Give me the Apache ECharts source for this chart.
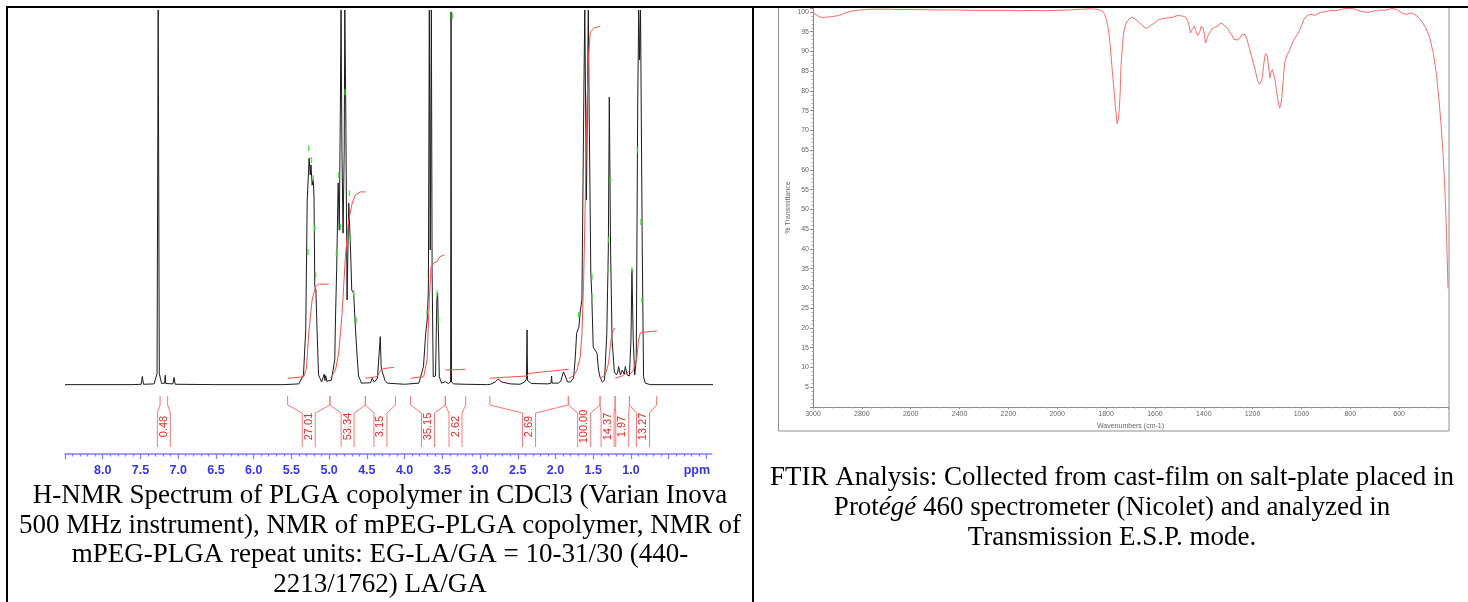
<!DOCTYPE html>
<html><head><meta charset="utf-8">
<script src="https://cdn.jsdelivr.net/npm/echarts@6/dist/echarts.min.js"></script>
<style>html,body{margin:0;padding:0;background:#fff}#c{width:1468px;height:602px}</style>
</head><body><div id="c"></div>
<script>
// ---------- NMR data ----------
const nmrTickLabels = ['8.0','7.5','7.0','6.5','6.0','5.5','5.0','4.5','4.0','3.5','3.0','2.5','2.0','1.5','1.0'];
const nmrUnitLabel = 'ppm';
const nmrSpectrum = [[8.50,0.1],[7.60,0.1],[7.49,0.2],[7.475,2.3],[7.46,0.2],[7.32,0.3],[7.28,3],[7.265,100],[7.25,3],[7.22,0.4],[7.18,0.5],[7.172,2.6],[7.165,0.4],[7.07,0.3],[7.055,2.0],[7.04,0.2],[6.5,0.1],[5.60,0.1],[5.40,0.3],[5.34,2.7],[5.31,14.7],[5.29,49.3],[5.265,60.5],[5.25,56],[5.24,58.7],[5.225,53.3],[5.21,54.7],[5.20,50.1],[5.19,26.4],[5.175,25.3],[5.16,14.7],[5.14,2.7],[5.10,0.8],[5.065,2.9],[5.055,1.2],[5.045,2.5],[5.03,1.0],[4.97,1.3],[4.945,1.0],[4.925,6.7],[4.915,18.1],[4.90,30.7],[4.88,53.9],[4.865,41.3],[4.85,76],[4.842,100],[4.83,62.7],[4.815,40.5],[4.80,62.7],[4.792,100],[4.78,76],[4.762,22.7],[4.74,48.5],[4.72,38.7],[4.70,25.3],[4.675,24.5],[4.65,14.7],[4.63,8],[4.61,2.4],[4.57,0.5],[4.45,0.6],[4.43,1.8],[4.40,0.8],[4.36,1.8],[4.335,2.2],[4.322,12.9],[4.31,4.9],[4.295,3.5],[4.28,3.1],[4.26,1.2],[4.23,0.5],[4.0,0.2],[3.81,0.5],[3.79,0.9],[3.75,4.9],[3.72,13.8],[3.70,17.3],[3.685,25],[3.672,100],[3.66,36],[3.645,100],[3.635,30],[3.62,2.2],[3.605,1.9],[3.59,2.4],[3.572,22.7],[3.562,24.5],[3.552,14.7],[3.54,2.2],[3.51,0.5],[3.46,0.9],[3.42,0.4],[3.39,0.8],[3.384,99.5],[3.378,0.8],[3.35,0.3],[3.20,0.2],[2.90,0.1],[2.86,0.2],[2.80,0.8],[2.76,1.6],[2.71,0.8],[2.60,0.3],[2.47,0.2],[2.41,0.8],[2.385,1.5],[2.377,14.7],[2.37,1.2],[2.32,0.4],[2.10,0.3],[2.058,0.5],[2.052,2.4],[2.045,0.5],[1.96,0.5],[1.93,1.0],[1.895,3.5],[1.87,2.4],[1.84,0.8],[1.80,0.8],[1.76,1.9],[1.74,6.7],[1.72,13.8],[1.69,15.5],[1.67,20],[1.65,22.7],[1.625,76],[1.612,100],[1.59,49.3],[1.565,100],[1.555,76],[1.532,29.9],[1.52,24.5],[1.50,10.1],[1.45,8.5],[1.43,4],[1.41,2.1],[1.38,0.8],[1.35,1.3],[1.32,13.8],[1.30,36],[1.287,76.8],[1.27,36],[1.25,12],[1.22,3.5],[1.19,2.7],[1.175,3.5],[1.164,4.9],[1.14,2.7],[1.115,4],[1.09,2.9],[1.075,4.9],[1.05,2.7],[1.02,2.4],[1.00,12],[0.987,30.7],[0.97,12],[0.95,2.7],[0.93,6.7],[0.91,76],[0.897,100],[0.886,86.7],[0.873,100],[0.86,62.7],[0.85,36],[0.833,2.2],[0.81,0.5],[0.745,0.1],[-0.10,0.1]];
const integralLabels = ['0.48','27.01','53.34','3.15','35.15','2.62','2.69','100.00','14.37','1.97','13.27'];
const integralFrom = [7.24,5.55,4.99,4.52,3.92,3.46,2.87,1.83,1.41,1.21,1.02];
const integralTo   = [7.14,4.99,4.52,4.12,3.46,3.19,1.83,1.41,1.21,1.02,0.66];
const integralCurve1 = [[5.55,1.8],[5.336,2.2],[5.30,4.5],[5.27,13.8],[5.225,22.7],[5.18,26.2],[5.14,26.9],[5.005,26.9]];
const integralCurve2 = [[4.983,1.8],[4.915,4],[4.873,8.5],[4.828,19.1],[4.784,34.2],[4.74,44],[4.695,48.4],[4.652,50.7],[4.585,51.5],[4.519,51.5]];
const integralCurve3 = [[4.519,1.8],[4.364,2.2],[4.32,3.8],[4.277,4.4],[4.144,4.7]];
const integralCurve4 = [[3.923,1.8],[3.747,2.2],[3.702,6.7],[3.672,22.7],[3.649,31.5],[3.615,32.5],[3.57,32.9],[3.535,34.2],[3.473,34.7]];
const integralCurve5 = [[3.46,4],[3.393,4],[3.376,4.4],[3.195,4.2]];
const integralCurve6 = [[2.873,1.8],[2.731,2],[2.377,2.4],[2.356,3.1],[1.826,4.2]];
const integralCurve7 = [[1.826,1.8],[1.76,2.4],[1.715,4],[1.672,7.5],[1.649,13.8],[1.628,27.1],[1.605,49.3],[1.592,67.1],[1.565,86.7],[1.539,94.1],[1.486,95.2],[1.407,95.7]];
const integralCurve8 = [[1.407,1.8],[1.34,2.7],[1.297,5.8],[1.274,10.2],[1.252,13.8],[1.23,14.9],[1.208,15.1]];
const integralCurve9 = [[1.208,1.8],[1.119,2.4],[1.032,3.5]];
const integralCurve10 = [[1.019,2.7],[0.966,4],[0.921,7.5],[0.899,12],[0.877,13.8],[0.833,14.1],[0.656,14.4]];
const peakMarks = [[5.27,63.1],[5.234,60],[5.21,55.1],[5.28,35.5],[5.19,41.8],[5.18,29.3],[4.873,56],[4.903,35.1],[4.85,42.2],[4.79,78.1],[4.731,51.1],[4.718,39.1],[4.674,24.5],[4.642,17.3],[3.702,19.5],[3.570,24.5],[3.556,17.3],[3.367,98.4],[1.694,18.7],[1.517,28.9],[1.517,23.5],[1.274,54.7],[1.297,38.7],[1.305,30.7],[0.987,30.7],[0.913,62.7],[0.868,43.5],[0.854,22.7]];

// ---------- FTIR data ----------
const ftirSpectrum = [[3000,99.6],[2990,99.4],[2975,98.8],[2958,98.5],[2945,98.7],[2925,98.8],[2905,99.0],[2885,99.3],[2865,99.8],[2845,100.2],[2820,100.4],[2790,100.6],[2750,100.7],[2700,100.7],[2650,100.6],[2600,100.6],[2550,100.6],[2500,100.5],[2450,100.5],[2400,100.5],[2350,100.4],[2300,100.4],[2250,100.4],[2200,100.4],[2150,100.3],[2100,100.4],[2050,100.3],[2000,100.4],[1950,100.5],[1900,100.7],[1860,100.8],[1830,100.6],[1815,100.2],[1806,99.4],[1798,97.8],[1790,95.5],[1783,91.5],[1776,86.2],[1768,80.5],[1762,76.1],[1755,71.7],[1750,72.8],[1746,75.2],[1742,80.0],[1739,86.2],[1733,91.5],[1728,94.7],[1720,96.8],[1714,97.6],[1704,98.3],[1694,98.7],[1680,98.2],[1667,97.4],[1650,96.5],[1639,95.9],[1630,96.0],[1619,96.5],[1600,97.3],[1585,98.1],[1570,98.3],[1550,98.5],[1530,98.6],[1509,99.1],[1490,99.0],[1475,98.7],[1466,97.8],[1461,96.8],[1455,94.7],[1448,95.5],[1443,95.9],[1438,96.4],[1434,95.5],[1430,94.7],[1425,94.0],[1420,93.7],[1415,95.2],[1411,96.4],[1406,96.5],[1402,95.9],[1397,94.0],[1393,92.1],[1388,93.0],[1384,93.8],[1375,94.9],[1366,95.7],[1355,96.1],[1345,96.4],[1337,96.8],[1329,97.2],[1317,96.7],[1304,95.9],[1295,95.0],[1284,94.0],[1277,93.1],[1270,92.6],[1261,92.9],[1252,93.4],[1245,94.2],[1238,94.7],[1231,94.3],[1225,93.4],[1216,91.5],[1208,89.6],[1198,87.3],[1188,85.0],[1182,83.2],[1178,82.4],[1172,81.7],[1167,81.6],[1163,82.5],[1160,83.7],[1155,86.5],[1151,88.3],[1147,89.5],[1144,90.0],[1140,88.8],[1137,87.5],[1133,85.3],[1129,83.3],[1124,84.8],[1119,85.4],[1116,85.5],[1113,85.0],[1108,82.8],[1103,80.3],[1096,77.5],[1089,75.7],[1085,76.5],[1080,78.6],[1075,82.5],[1069,87.1],[1060,89.0],[1051,90.0],[1041,91.5],[1031,93.0],[1020,94.0],[1010,95.1],[1000,96.5],[990,98.1],[980,98.9],[969,99.3],[958,99.4],[949,99.1],[935,99.5],[921,99.9],[900,100.1],[880,100.4],[858,100.3],[840,100.6],[820,100.9],[800,100.9],[785,100.8],[770,100.4],[750,100.1],[730,99.9],[715,100.1],[700,100.3],[685,100.3],[676,100.5],[660,100.4],[645,100.6],[630,100.9],[622,100.8],[610,100.6],[600,100.2],[585,99.6],[570,99.4],[551,99.8],[535,99.3],[520,98.6],[505,97.4],[491,96.0],[475,93.5],[460,89.5],[448,84.5],[438,78.5],[429,72.0],[420,64.0],[412,54.0],[406,44.0],[400,30.0]];
const ftirXName = 'Wavenumbers (cm-1)';
const ftirYName = '% Transmittance';

// ---------- captions ----------
const nmrCaption = ['H-NMR Spectrum of PLGA copolymer in CDCl3 (Varian Inova','500 MHz instrument), NMR of mPEG-PLGA copolymer, NMR of','mPEG-PLGA repeat units: EG-LA/GA = 10-31/30 (440-','2213/1762) LA/GA'];
const ftirCaption = ['FTIR Analysis: Collected from cast-film on salt-plate placed in','Prot{i|égé} 460 spectrometer (Nicolet) and analyzed in','Transmission E.S.P. mode.'];

// ---------- build ----------
const nmrLabelValues = nmrTickLabels.map(Number).concat([0.126]);
const nmrMajorTicks = []; for (let i = 0; i <= 17; i++) nmrMajorTicks.push(i * 0.5);
const nmrMinorTicks = []; for (let i = 1; i < 85; i++) { if (i % 5 !== 0) nmrMinorTicks.push(i / 10); }
const integralCurves = [integralCurve1,integralCurve2,integralCurve3,integralCurve4,integralCurve5,integralCurve6,integralCurve7,integralCurve8,integralCurve9,integralCurve10];

const blueAxis = '#7d7dff';
const ftirGray = '#8c8c8c';
const serif = '"Liberation Serif","Times New Roman",serif';
const capSize = 27;

const chart = echarts.init(document.getElementById('c'), null, {renderer: 'canvas'});
const series = [
  {type:'line', xAxisIndex:0, yAxisIndex:0, data:nmrSpectrum, showSymbol:false, symbol:'none', lineStyle:{color:'#1c1c1c', width:1}, z:2, silent:true}
];
integralCurves.forEach(c => series.push({type:'line', xAxisIndex:0, yAxisIndex:0, data:c, symbol:'none', lineStyle:{color:'#ff4d4d', width:1}, z:3, silent:true}));
series.push({type:'scatter', xAxisIndex:0, yAxisIndex:0, data:peakMarks, symbol:'rect', symbolSize:[1.5,6], itemStyle:{color:'#2fe02f'}, z:4, silent:true});
series.push({
  type:'custom', xAxisIndex:0, yAxisIndex:0, silent:true, z:5,
  data: integralFrom.map((a, i) => [a, integralTo[i]]),
  renderItem: function (params, api) {
    const cs = params.coordSys;
    const base = cs.y + cs.height;
    const xa = api.coord([api.value(0), 0])[0];
    const xb = api.coord([api.value(1), 0])[0];
    const cx = (xa + xb) / 2;
    const yTop = base - 58, yTick = base - 49, yStem = base - 41, yEnd = base - 7;
    const hw = 6.5;
    const st = {stroke:'#ff7676', lineWidth:1, fill:null};
    return {type:'group', children:[
      {type:'polyline', shape:{points:[[xa,yTop],[xa,yTick],[cx-hw,yStem],[cx-hw,yEnd]]}, style:st},
      {type:'polyline', shape:{points:[[xb,yTop],[xb,yTick],[cx+hw,yStem],[cx+hw,yEnd]]}, style:st},
      {type:'text', x:cx, y:base-27.5, rotation:Math.PI/2, style:{text:integralLabels[params.dataIndex], x:0, y:0, fill:'#ec2a2a', font:'11px "Liberation Sans", Arial, sans-serif', align:'center', verticalAlign:'middle'}}
    ]};
  }
});
series.push({type:'line', xAxisIndex:2, yAxisIndex:1, data:ftirSpectrum, symbol:'none', lineStyle:{color:'#ff6a6a', width:1}, z:2, silent:true});

const option = {
  animation:false,
  backgroundColor:'#ffffff',
  textStyle:{fontFamily:'"Liberation Sans", Arial, sans-serif'},
  grid:[
    {left:65, right:1468-711.7, top:10, bottom:602-454},
    {left:813, right:20, top:8, bottom:602-407}
  ],
  xAxis:[
    {type:'value', gridIndex:0, min:-0.07, max:8.5, inverse:true, position:'bottom',
     axisLine:{show:true, onZero:false, lineStyle:{color:blueAxis, width:1.5}},
     axisTick:{show:true, customValues:nmrMajorTicks, length:5, lineStyle:{color:blueAxis, width:1.2}},
     axisLabel:{show:true, customValues:nmrLabelValues, margin:10, color:'#3434ee', fontWeight:'bold', fontSize:12.5,
       formatter: v => (v < 0.3 ? nmrUnitLabel : Number(v).toFixed(1))},
     splitLine:{show:false}},
    {type:'value', gridIndex:0, min:-0.07, max:8.5, inverse:true, position:'bottom',
     axisLine:{show:false, onZero:false}, axisLabel:{show:false}, splitLine:{show:false},
     axisTick:{show:true, customValues:nmrMinorTicks, length:2.5, lineStyle:{color:blueAxis, width:1.2}}},
    {type:'value', gridIndex:1, min:400, max:3000, interval:200, inverse:true, position:'bottom',
     name:ftirXName, nameLocation:'middle', nameGap:13, nameTextStyle:{fontSize:7, color:'#666'},
     axisLine:{onZero:false, lineStyle:{color:ftirGray, width:1}},
     axisTick:{length:2, lineStyle:{color:ftirGray}},
     minorTick:{show:true, splitNumber:5, length:1.5, lineStyle:{color:'#aaa'}},
     axisLabel:{fontSize:7, color:'#666', margin:4, showMinLabel:false, formatter: v => String(v)},
     splitLine:{show:false}}
  ],
  yAxis:[
    {type:'value', gridIndex:0, min:-18.4, max:100, show:false, splitLine:{show:false}},
    {type:'value', gridIndex:1, min:0, max:101, interval:5,
     name:ftirYName, nameLocation:'middle', nameGap:21, nameRotate:90, nameTextStyle:{fontSize:7, color:'#666'},
     axisLine:{show:true, onZero:false, lineStyle:{color:ftirGray, width:1}},
     axisTick:{show:true, length:3, lineStyle:{color:ftirGray}},
     minorTick:{show:true, splitNumber:5, length:1.5, lineStyle:{color:'#aaa'}},
     axisLabel:{fontSize:7, color:'#666', margin:4, showMinLabel:false, showMaxLabel:false},
     splitLine:{show:false}}
  ],
  series: series,
  graphic:[
    {type:'rect', z:50, shape:{x:778.5, y:6.5, width:670.5, height:424.5}, style:{stroke:'#909090', fill:null, lineWidth:1}, silent:true},
    {type:'line', z:60, shape:{x1:6, y1:7, x2:1468, y2:7}, style:{stroke:'#000', lineWidth:2}, silent:true},
    {type:'line', z:60, shape:{x1:7, y1:6, x2:7, y2:602}, style:{stroke:'#000', lineWidth:2}, silent:true},
    {type:'line', z:60, shape:{x1:753, y1:6, x2:753, y2:602}, style:{stroke:'#000', lineWidth:2}, silent:true},
    {type:'text', z:60, x:380, y:481, style:{text:nmrCaption.join('\n'), font:capSize + 'px ' + serif, fill:'#000', align:'center', verticalAlign:'top', lineHeight:29.7}, silent:true},
    {type:'text', z:60, x:1112, y:463, style:{text:ftirCaption.join('\n'), font:capSize + 'px ' + serif, fill:'#000', align:'center', verticalAlign:'top', lineHeight:30,
      rich:{i:{fontStyle:'italic', fontSize:capSize, fontFamily:serif, lineHeight:30}}}, silent:true}
  ]
};
chart.setOption(option);
</script>
</body></html>
